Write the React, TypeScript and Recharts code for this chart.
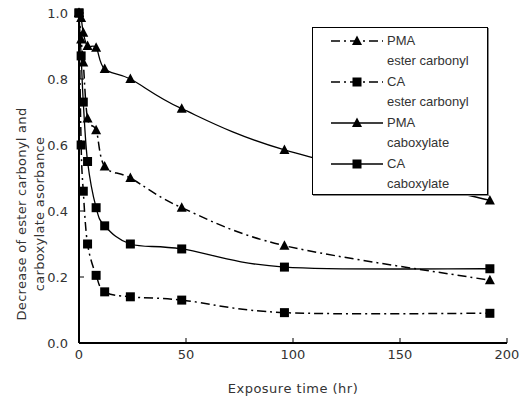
import { LineChart, Line, XAxis, YAxis } from "recharts";

// exposure hours and normalised absorbance
const hours = [0, 1, 2, 4, 8, 12, 24, 48, 96, 192];
const pmaEster = [1.0, 0.92, 0.85, 0.68, 0.645, 0.535, 0.5, 0.41, 0.295, 0.19];
const caEster = [1.0, 0.6, 0.46, 0.3, 0.205, 0.155, 0.14, 0.13, 0.092, 0.09];
const pmaCarbox = [1.0, 0.985, 0.94, 0.9, 0.895, 0.83, 0.8, 0.71, 0.585, 0.432];
const caCarbox = [1.0, 0.87, 0.73, 0.55, 0.41, 0.355, 0.3, 0.285, 0.23, 0.225];

const xTicks = [0, 50, 100, 150, 200];
const yTicks = [0, 0.2, 0.4, 0.6, 0.8, 1.0];

const data = hours.map((h, i) => ({
  h,
  pmaEster: pmaEster[i],
  caEster: caEster[i],
  pmaCarbox: pmaCarbox[i],
  caCarbox: caCarbox[i],
}));

// Excel-like smoothed line (Catmull-Rom bezier)
function smooth(context: any) {
  let pts: [number, number][] = [];
  return {
    areaStart() {},
    areaEnd() {},
    lineStart() {
      pts = [];
    },
    lineEnd() {
      if (!pts.length) return;
      context.moveTo(pts[0][0], pts[0][1]);
      for (let i = 0; i < pts.length - 1; i++) {
        const p0 = pts[i - 1] || pts[i];
        const p1 = pts[i];
        const p2 = pts[i + 1];
        const p3 = pts[i + 2] || p2;
        context.bezierCurveTo(
          p1[0] + (p2[0] - p0[0]) / 6,
          p1[1] + (p2[1] - p0[1]) / 6,
          p2[0] - (p3[0] - p1[0]) / 6,
          p2[1] - (p3[1] - p1[1]) / 6,
          p2[0],
          p2[1]
        );
      }
    },
    point(x: number, y: number) {
      pts.push([x, y]);
    },
  };
}

const Triangle = (p: any) => {
  const { cx, cy } = p;
  if (cx == null || cy == null) return <g key={p.index} />;
  return (
    <polygon
      key={p.index}
      points={`${cx},${cy - 5.5} ${cx + 5},${cy + 4} ${cx - 5},${cy + 4}`}
      fill="#000"
    />
  );
};

const Square = (p: any) => {
  const { cx, cy } = p;
  if (cx == null || cy == null) return <g key={p.index} />;
  return <rect key={p.index} x={cx - 4.5} y={cy - 4.5} width={9} height={9} fill="#000" />;
};

const DASH = "9 4 2 4";

const series = [
  { key: "pmaEster", name: "PMA", sub: "ester carbonyl", dash: DASH, marker: "tri" },
  { key: "caEster", name: "CA", sub: "ester carbonyl", dash: DASH, marker: "sq" },
  { key: "pmaCarbox", name: "PMA", sub: "caboxylate", dash: undefined, marker: "tri" },
  { key: "caCarbox", name: "CA", sub: "caboxylate", dash: undefined, marker: "sq" },
];

const YTitle = (props: any) => {
  const { x, y, height } = props.viewBox;
  const cy = y + height / 2 + 36;
  const x1 = x + 21;
  const x2 = x + 39;
  return (
    <g fill="#333" fontSize={13} fontFamily="DejaVu Sans" letterSpacing={0.3}>
      <text x={x1} y={cy} transform={`rotate(-90 ${x1} ${cy})`} textAnchor="middle" dominantBaseline="central">
        Decrease of ester carbonyl and
      </text>
      <text x={x2} y={cy} transform={`rotate(-90 ${x2} ${cy})`} textAnchor="middle" dominantBaseline="central">
        carboxylate asorbance
      </text>
    </g>
  );
};

function LegendBox() {
  return (
    <div
      style={{
        position: "absolute",
        left: 312,
        top: 27,
        width: 176,
        height: 168,
        boxSizing: "border-box",
        border: "1px solid #000",
        boxShadow: "1px 1px 0 #888",
        background: "#fff",
        fontFamily: "Liberation Sans, Arial, sans-serif",
        fontSize: 13,
        color: "#333",
      }}
    >
      {series.map((s, i) => (
        <div key={s.key} style={{ position: "absolute", left: 0, top: 3 + i * 41, width: "100%" }}>
          <svg width={76} height={20} style={{ position: "absolute", left: 0, top: 0 }}>
            <line x1={18} x2={70} y1={10} y2={10} stroke="#000" strokeWidth={1.5} strokeDasharray={s.dash} />
            {s.marker === "tri" ? (
              <polygon points="44,4.5 49,14 39,14" fill="#000" />
            ) : (
              <rect x={39.5} y={5.5} width={9} height={9} fill="#000" />
            )}
          </svg>
          <div style={{ position: "absolute", left: 74, top: 0, lineHeight: "20px", whiteSpace: "nowrap" }}>
            {s.name}
            <br />
            {s.sub}
          </div>
        </div>
      ))}
    </div>
  );
}

export default function App() {
  return (
    <div style={{ position: "absolute", left: 0, top: 0, width: 520, height: 412 }}>
      <LineChart
        width={520}
        height={412}
        data={data}
        margin={{ top: 13, right: 13, bottom: 9, left: 0 }}
        style={{ fontFamily: "DejaVu Sans" }}
      >
        <XAxis
          dataKey="h"
          type="number"
          domain={[0, 200]}
          ticks={xTicks}
          height={60}
          tickSize={-5}
          tickMargin={12}
          axisLine={{ stroke: "#000", strokeWidth: 2 }}
          tickLine={{ stroke: "#000" }}
          tick={{ fill: "#333", fontSize: 13 }}
          label={{
            value: "Exposure time (hr)",
            position: "insideBottom",
            offset: 10,
            fill: "#333",
            fontSize: 13,
            letterSpacing: 0.5,
          }}
        />
        <XAxis
          xAxisId="top"
          orientation="top"
          dataKey="h"
          type="number"
          domain={[0, 200]}
          height={0}
          tick={false}
          tickLine={false}
          axisLine={{ stroke: "#000", strokeWidth: 1 }}
        />
        <YAxis
          type="number"
          domain={[0, 1]}
          ticks={yTicks}
          width={79}
          tickSize={-5}
          tickMargin={16}
          tickFormatter={(v: number) => v.toFixed(1)}
          axisLine={{ stroke: "#000", strokeWidth: 2 }}
          tickLine={{ stroke: "#000" }}
          tick={{ fill: "#333", fontSize: 13 }}
          label={<YTitle />}
        />
        <YAxis
          yAxisId="right"
          orientation="right"
          type="number"
          domain={[0, 1]}
          width={0}
          tick={false}
          tickLine={false}
          axisLine={{ stroke: "#000", strokeWidth: 1 }}
        />
        {series.map((s) => (
          <Line
            key={s.key}
            dataKey={s.key}
            type={smooth as any}
            stroke="#000"
            strokeWidth={s.dash ? 1.5 : 1.3}
            strokeDasharray={s.dash}
            dot={s.marker === "tri" ? Triangle : Square}
            activeDot={false}
            isAnimationActive={false}
          />
        ))}
      </LineChart>
      <LegendBox />
    </div>
  );
}
